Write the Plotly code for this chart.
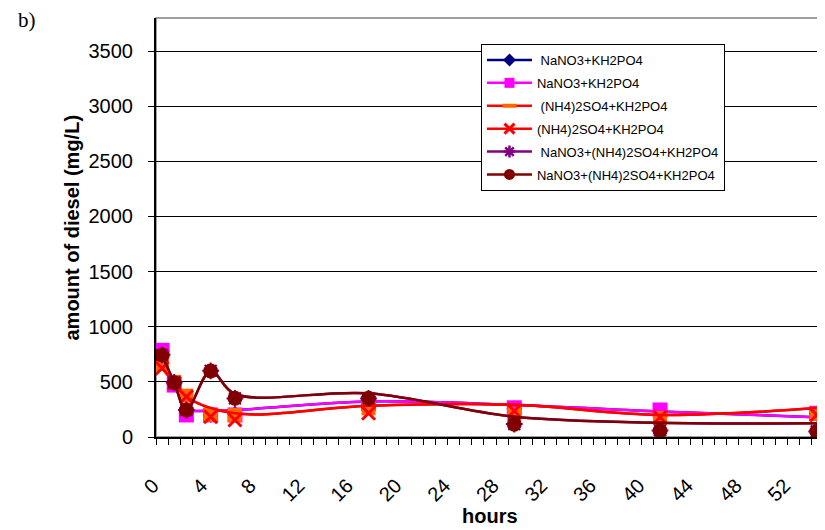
import plotly.graph_objects as go

# ---------------- data ----------------
hours = [0.5, 1.5, 2.5, 4.5, 6.5, 17.5, 29.5, 41.5, 54.4]

# marker values
nano3_a_pts = [780, 480, 210, 200, 210, 300, 260, 240, 210]        # navy diamonds (hidden)
nano3_b_pts = [786, 471, 200, 200, 200, 305, 265, 245, 215]        # magenta squares
nh4_a_pts = [662, 500, 375, 200, 200, 260, 206, 172, 210]          # orange
nh4_b_pts = [623, 490, 365, 184, 154, 215, 236, 179, 200]          # red X
mix_a_pts = [745, 495, 245, 600, 350, 350, 118, 60, 50]            # purple stars
mix_b_pts = [743, 492, 245, 598, 351, 351, 115, 57, 50]            # dark red circles

# smoothed line values (None = no value at that time)
nano3_line = [None, None, 236, None, 245, 322, 290, 232, 178]
nh4_line = [623, 495, 365, None, 215, 284, 292, 200, 262]
mix_line = [743, 492, 245, 598, 390, 396, 184, 130, 124]

names = ["\u00a0NaNO3+KH2PO4", "NaNO3+KH2PO4",
         "\u00a0(NH4)2SO4+KH2PO4", "(NH4)2SO4+KH2PO4",
         "\u00a0NaNO3+(NH4)2SO4+KH2PO4", "NaNO3+(NH4)2SO4+KH2PO4"]

x_ticks = list(range(0, 53, 4))
y_ticks = list(range(0, 3501, 500))

# ---------------- styles ----------------
series = [
    dict(pts=nano3_a_pts, line=nano3_line, lc="#000080",
         marker=dict(symbol="diamond", size=12, color="#000080"),
         leg=dict(symbol="diamond", size=10, color="#000080")),
    dict(pts=nano3_b_pts, line=nano3_line, lc="#FF00FF",
         marker=dict(symbol="square", size=15, color="#FF00FF"),
         leg=dict(symbol="square", size=10, color="#FF00FF")),
    dict(pts=nh4_a_pts, line=nh4_line, lc="#FF0000",
         marker=dict(symbol="square", size=14, color="#FF6600"),
         leg=dict(symbol="line-ew", size=10, color="#FF6600",
                  line=dict(color="#FF6600", width=4))),
    dict(pts=nh4_b_pts, line=nh4_line, lc="#FF0000",
         marker=dict(symbol="x-thin", size=13, color="#FF0000",
                     line=dict(color="#FF0000", width=3)),
         leg=dict(symbol="x-thin", size=10, color="#FF0000",
                  line=dict(color="#FF0000", width=3))),
    dict(pts=mix_a_pts, line=mix_line, lc="#800080",
         marker=dict(symbol="asterisk", size=14, color="#800080",
                     line=dict(color="#800080", width=2)),
         leg=dict(symbol="asterisk", size=10, color="#800080",
                  line=dict(color="#800080", width=2.5))),
    dict(pts=mix_b_pts, line=mix_line, lc="#800000",
         marker=dict(symbol="circle", size=15, color="#800000"),
         leg=dict(symbol="circle", size=11, color="#800000")),
]

fig = go.Figure()
for i, s in enumerate(series):
    fig.add_trace(go.Scatter(
        x=hours, y=s["line"], mode="lines", connectgaps=True,
        line=dict(color=s["lc"], width=2.5, shape="spline", smoothing=1),
        showlegend=False, hoverinfo="skip"))
    fig.add_trace(go.Scatter(
        x=hours, y=s["pts"], mode="markers", marker=s["marker"],
        showlegend=False, cliponaxis=True))
for i, s in enumerate(series):
    fig.add_trace(go.Scatter(
        x=[None], y=[None], mode="lines+markers", name=names[i],
        line=dict(color=s["lc"], width=2.5), marker=s["leg"],
        legendgroup=str(i), showlegend=True))

font = "Liberation Sans, Arial, sans-serif"

# the page body has an 8px margin, so the figure is 8px smaller and shifted
fig.update_layout(
    width=817, height=522,
    margin=dict(l=148, r=1, t=10, b=93, autoexpand=False),
    paper_bgcolor="white", plot_bgcolor="white",
    font=dict(family=font, color="black", size=20),
    showlegend=True,
    legend=dict(x=0.4865, y=(437 - 44) / 419, xanchor="left", yanchor="top",
                bgcolor="white", bordercolor="black", borderwidth=1,
                font=dict(size=13, family=font, color="black"),
                itemwidth=45, tracegroupgap=3, traceorder="grouped"),
    xaxis=dict(range=[0, 55], tickvals=x_ticks, ticktext=[str(v) for v in x_ticks],
               tickangle=-45, ticks="outside", ticklen=6, tickcolor="black",
               tickfont=dict(size=20), showgrid=False, zeroline=False,
               showline=True, linecolor="black", linewidth=2, automargin=False,
               minor=dict(dtick=1, tick0=0, ticks="outside", ticklen=6,
                          tickcolor="black", showgrid=False),
               ticklabelstandoff=21, ticklabelshift=-3),
    yaxis=dict(range=[0, 3800], tickvals=y_ticks, ticks="outside", ticklen=6,
               tickcolor="black", tickfont=dict(size=20), showgrid=True,
               gridcolor="black", gridwidth=1, zeroline=False, automargin=False,
               showline=True, linecolor="black", linewidth=2,
               ticklabelstandoff=11),
    shapes=[dict(type="rect", xref="paper", yref="paper", x0=0, x1=1, y0=0, y1=1,
                 line=dict(color="#808080", width=1.5), layer="below")],
    annotations=[
        dict(text="<b>amount of diesel (mg/L)</b>", xref="paper", yref="paper",
             x=(71 - 156) / 668, y=0.5, textangle=-90, showarrow=False,
             font=dict(size=20, family=font), xanchor="center", yanchor="middle"),
        dict(text="<b>hours</b>", xref="paper", yref="paper", x=0.5,
             y=-(516 - 437) / 419, showarrow=False, font=dict(size=20, family=font),
             xanchor="center", yanchor="middle"),
        dict(text="b)", xref="paper", yref="paper", x=(27 - 156) / 668,
             y=(437 - 20) / 419, showarrow=False,
             font=dict(size=21, family="Liberation Serif, Times New Roman, serif"),
             xanchor="center", yanchor="middle"),
    ],
)

fig.write_html("out.html")
